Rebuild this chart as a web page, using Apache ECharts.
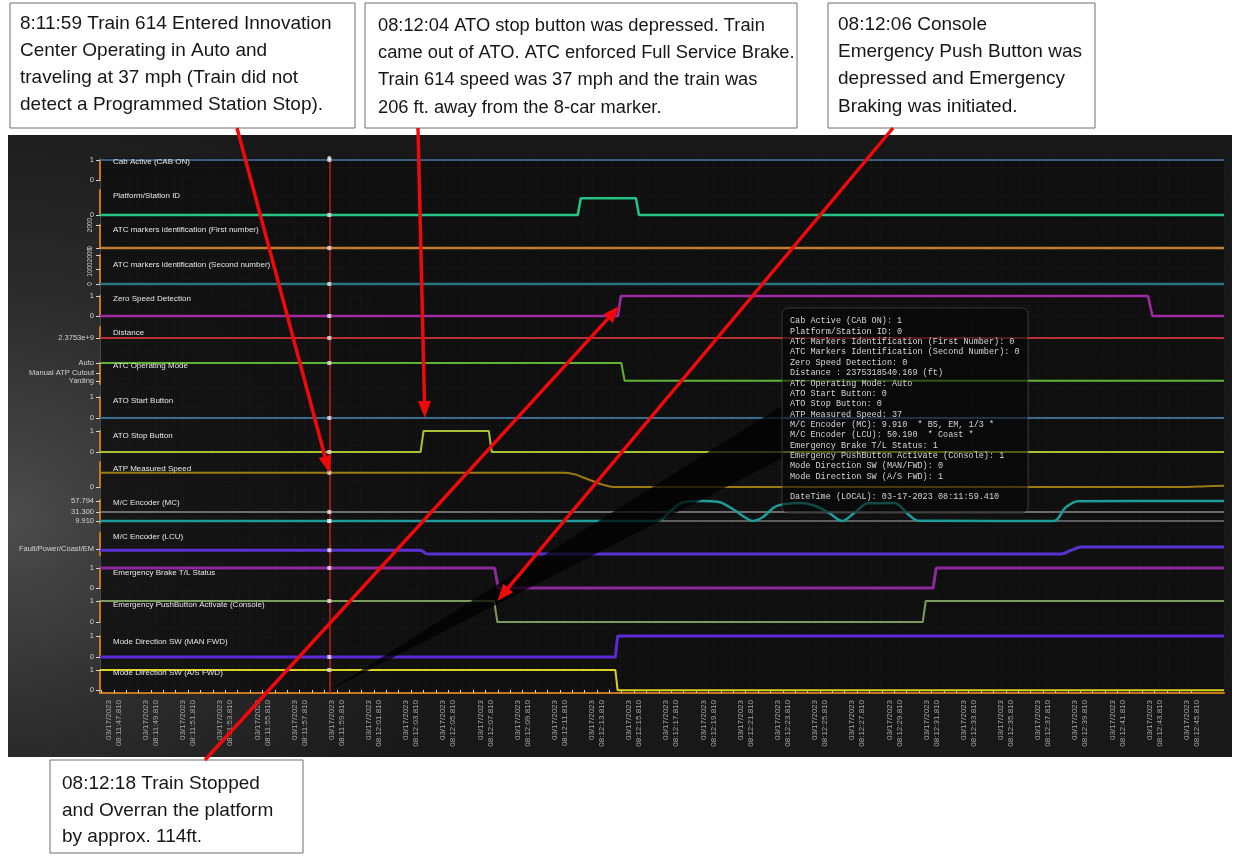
<!DOCTYPE html>
<html>
<head>
<meta charset="utf-8">
<script src="https://cdn.jsdelivr.net/npm/echarts@6/dist/echarts.min.js"></script>
<style>
  html, body { margin: 0; padding: 0; background: #ffffff; }
  #main { width: 1235px; height: 856px; }
</style>
</head>
<body>
<div id="main"></div>
<script>
// ---- Event recorder channels, Train 614 (time = seconds after 08:11:00) ----
const recordDate = '03/17/2023';
const tickLabels = [
  '08:11:47.810', '08:11:49.810', '08:11:51.810', '08:11:53.810', '08:11:55.810',
  '08:11:57.810', '08:11:59.810', '08:12:01.810', '08:12:03.810', '08:12:05.810',
  '08:12:07.810', '08:12:09.810', '08:12:11.810', '08:12:13.810', '08:12:15.810',
  '08:12:17.810', '08:12:19.810', '08:12:21.810', '08:12:23.810', '08:12:25.810',
  '08:12:27.810', '08:12:29.810', '08:12:31.810', '08:12:33.810', '08:12:35.810',
  '08:12:37.810', '08:12:39.810', '08:12:41.810', '08:12:43.810', '08:12:45.810'
];
const cursorTime = '08:11:59.410';
const timeRange = [47.07, 107.55];

const cabActive        = [[47.07, 1], [107.55, 1]];
const platformStation  = [[47.07, 0], [72.78, 0], [72.94, 1], [75.91, 1], [76.07, 0], [107.55, 0]];
const atcMarkerFirst   = [[47.07, 0], [107.55, 0]];
const atcMarkerSecond  = [[47.07, 0], [107.55, 0]];
const zeroSpeed        = [[47.07, 0], [74.94, 0], [75.10, 1], [103.46, 1], [103.70, 0], [107.55, 0]];
const distanceFt       = [[47.07, 2375318540.169], [107.55, 2375318540.169]];
const atcModeNames     = ['Yarding', 'Manual Restricted', 'Manual ATP Cutout', 'Auto'];
const atcMode          = [[47.07, 3], [75.12, 3], [75.30, 0], [107.55, 0]];
const atoStart         = [[47.07, 0], [107.55, 0]];
const atoStop          = [[47.07, 0], [64.32, 0], [64.48, 1], [67.99, 1], [68.15, 0], [107.55, 0]];
const atpSpeed         = [[47.07, 37], [72.0, 37], [72.6, 33], [73.0, 26], [73.5, 17], [74.0, 8],
                          [74.5, 1.5], [74.9, 0], [105.6, 0], [106.6, 2], [107.55, 3]];
const mcEncoder        = [[47.07, 9.91], [76.7, 9.91], [77.3, 14], [77.8, 35], [78.5, 55], [79.5, 57.5],
                          [80.3, 56], [81.2, 36], [81.8, 18], [82.2, 10], [82.7, 18], [83.5, 46],
                          [84.8, 53], [85.6, 45], [86.3, 29], [87.0, 10], [87.7, 31], [88.4, 52],
                          [89.8, 53], [90.6, 24], [91.1, 10.5], [98.4, 10], [99.0, 41], [99.7, 57.3],
                          [107.55, 57.5]];
const mcLevelHigh      = [[47.07, 31.3], [107.55, 31.3]];
const mcLevelLow       = [[47.07, 9.8], [107.55, 9.8]];
const lcuEncoder       = [[47.07, 50.19], [64.3, 50.19], [64.7, 43.7], [98.8, 43.7], [99.3, 50],
                          [99.9, 55.8], [107.55, 55.8]];
const ebStatus         = [[47.07, 1], [68.30, 1], [68.50, 0], [91.90, 0], [92.06, 1], [107.55, 1]];
const epbConsole       = [[47.07, 1], [68.28, 1], [68.45, 0], [91.34, 0], [91.50, 1], [107.55, 1]];
const modeManFwd       = [[47.07, 0], [74.80, 0], [74.92, 1], [107.55, 1]];
const modeAsFwd        = [[47.07, 1], [74.80, 1], [74.92, 0], [107.55, 0]];
const mcNotch  = 'B5, EM, 1/3';
const lcuNotch = 'Coast';

// ---- helpers ----
function toSec(s) {
  const p = s.split(':');
  return (+p[0] - 8) * 3600 + (+p[1] - 11) * 60 + parseFloat(p[2]);
}
function valueAt(data, t) {
  for (let i = 0; i < data.length - 1; i++) {
    const a = data[i], b = data[i + 1];
    if (t >= a[0] && t <= b[0]) {
      return a[1] + (b[1] - a[1]) * (t - a[0]) / (b[0] - a[0]);
    }
  }
  return data[data.length - 1][1];
}
const tickSecs = tickLabels.map(toSec);
const labelBySec = {};
tickLabels.forEach((l, i) => { labelBySec[tickSecs[i].toFixed(2)] = l; });
const minorTickSecs = [];
tickSecs.forEach((s) => { minorTickSecs.push(s - 4 / 3, s - 2 / 3, s); });
const cursorSec = toSec(cursorTime);

// mode levels on the ATC Operating Mode axis
const atcModeLevels = [1.5, 3.1, 5.2, 10];

// ---- channel definitions (style + axis) ----
const ORANGE = '#c7771e';
const channels = [
  { name: 'Cab Active (CAB ON)', band: [160, 180, 163], min: 0, max: 1, ticks: [0, 1],
    lines: [{ data: cabActive, color: '#3d5d80', width: 2 }] },
  { name: 'Platform/Station ID', band: [190, 215, 197], min: 0, max: 1.5, ticks: [0],
    lines: [{ data: platformStation, color: '#22c585', width: 2.5 }] },
  { name: 'ATC markers identification (First number)', band: [225, 248, 231], min: 0, max: 2000,
    ticks: [0, 1000, 2000], rotate: 90,
    lines: [{ data: atcMarkerFirst, color: '#c47c34', width: 2.5 }] },
  { name: 'ATC markers identification (Second number)', band: [255, 284, 266], min: 0, max: 2000,
    ticks: [0, 1000, 2000], rotate: 90,
    lines: [{ data: atcMarkerSecond, color: '#28767e', width: 2.5 }] },
  { name: 'Zero Speed Detection', band: [296, 316, 300], min: 0, max: 1, ticks: [0, 1],
    lines: [{ data: zeroSpeed, color: '#a12aa4', width: 2.5 }] },
  { name: 'Distance', band: [327, 338, 334], min: 2375318540, max: 2375318600, ticks: [2375318540],
    fmt: (v) => v.toExponential(4),
    lines: [{ data: distanceFt, color: '#b83232', width: 2 }] },
  { name: 'ATC Operating Mode', band: [363, 384, 367], min: 0, max: 10, ticks: atcModeLevels,
    fmt: (v) => atcModeNames[atcModeLevels.indexOf(v)] || '',
    lines: [{ data: atcMode.map((d) => [d[0], atcModeLevels[d[1]]]), color: '#5fb332', width: 2 }] },
  { name: 'ATO Start Button', band: [397, 418, 402], min: 0, max: 1, ticks: [0, 1],
    lines: [{ data: atoStart, color: '#3a6a8e', width: 2 }] },
  { name: 'ATO Stop Button', band: [431, 452, 437], min: 0, max: 1, ticks: [0, 1],
    lines: [{ data: atoStop, color: '#a6c232', width: 2 }] },
  { name: 'ATP Measured Speed', band: [462, 487, 470], min: 0, max: 65, ticks: [0],
    lines: [{ data: atpSpeed, color: '#9c7c12', width: 2, smooth: 0.4 }] },
  { name: 'M/C Encoder (MC)', band: [500, 523, 504], min: 5, max: 60, ticks: [57.794, 31.3, 9.91],
    fmt: (v) => v.toFixed(3),
    lines: [{ data: mcLevelHigh, color: '#8c8c8c', width: 1.5 },
            { data: mcLevelLow, color: '#7a7a7a', width: 1.5 },
            { data: mcEncoder, color: '#1c9c9a', width: 2.5, smooth: 0.35 }] },
  { name: 'M/C Encoder (LCU)', band: [533, 555, 538], min: 42, max: 80, ticks: [52.5, 47],
    fmt: (v) => (v === 52.5 ? 'Fault/Power/Coast/EM' : 'B 10 96'),
    lines: [{ data: lcuEncoder, color: '#5a32d2', width: 3, smooth: 0.3 }] },
  { name: 'Emergency Brake T/L Status', band: [568, 588, 574], min: 0, max: 1, ticks: [0, 1],
    lines: [{ data: ebStatus, color: '#8c2a9c', width: 3 }] },
  { name: 'Emergency PushButton Activate (Console)', band: [601, 622, 606], min: 0, max: 1, ticks: [0, 1],
    lines: [{ data: epbConsole, color: '#7c9c5c', width: 2 }] },
  { name: 'Mode Direction SW (MAN FWD)', band: [636, 657, 643], min: 0, max: 1, ticks: [0, 1],
    lines: [{ data: modeManFwd, color: '#5a2ad6', width: 3 }] },
  { name: 'Mode Direction SW (A/S FWD)', band: [670, 693, 674], min: -0.14, max: 1, ticks: [0, 1],
    lines: [{ data: modeAsFwd, color: '#dcd222', width: 2 }] }
];

// ---- build option ----
const grids = [{ left: 100, right: 11, top: 158, bottom: 163, show: true,
                 backgroundColor: 'rgba(14,14,14,0.82)', borderWidth: 0, outerBoundsMode: 'none' }];
const dotted = { color: 'rgba(255,255,255,0.05)', width: 1, type: [1, 2] };
const xAxes = [
  { gridIndex: 0, type: 'value', min: 0, max: 121, interval: 1,
    axisLine: { show: false }, axisTick: { show: false }, axisLabel: { show: false },
    splitLine: { show: true, lineStyle: dotted } },
  { gridIndex: 0, type: 'value', min: timeRange[0], max: timeRange[1], show: false }
];
const yAxes = [
  { gridIndex: 0, type: 'value', min: 0, max: 58, interval: 1, position: 'right',
    axisLine: { show: true, lineStyle: { color: '#4a4a4a', width: 1 } },
    axisTick: { show: false }, axisLabel: { show: false },
    splitLine: { show: true, lineStyle: dotted } }
];
const series = [{
  type: 'scatter', xAxisIndex: 1, yAxisIndex: 0, data: [[cursorSec, 58]],
  symbolSize: 4, itemStyle: { color: '#eeeeee' }, z: 6, silent: true,
  markLine: {
    silent: true, symbol: 'none', label: { show: false },
    lineStyle: { color: '#c41c1c', width: 1.5, type: 'solid' },
    data: [{ xAxis: cursorSec }]
  }
}];
const titles = [];
const labelFont = 'Liberation Sans';

channels.forEach((ch, i) => {
  const gi = i + 1;
  const last = i === channels.length - 1;
  grids.push({ left: 100, right: 11, top: ch.band[0], height: ch.band[1] - ch.band[0],
               outerBoundsMode: 'none' });
  const xa = { gridIndex: gi, type: 'value', min: timeRange[0], max: timeRange[1], show: false };
  if (last) {
    Object.assign(xa, {
      show: true,
      axisLine: { show: true, onZero: false, lineStyle: { color: ORANGE, width: 2 } },
      axisTick: { show: true, inside: true, length: 3, customValues: minorTickSecs,
                  lineStyle: { color: '#d6d6d6', width: 1 } },
      axisLabel: {
        customValues: tickSecs, rotate: 90, margin: 7, color: '#a6a6a6',
        fontSize: 8, lineHeight: 10, fontFamily: labelFont,
        formatter: (v) => recordDate + '\n' + (labelBySec[v.toFixed(2)] || '')
      },
      splitLine: { show: false }
    });
  }
  xAxes.push(xa);
  yAxes.push({
    gridIndex: gi, type: 'value', min: ch.min, max: ch.max,
    axisLine: { show: true, onZero: false, lineStyle: { color: ORANGE, width: 2 } },
    axisTick: { show: true, length: 4, customValues: ch.ticks, lineStyle: { color: '#cfcfcf', width: 1 } },
    axisLabel: {
      customValues: ch.ticks, color: '#d2d2d2', fontSize: ch.rotate ? 6.5 : 7.5,
      fontFamily: labelFont, margin: 6, rotate: ch.rotate || 0, hideOverlap: false,
      showMinLabel: true, showMaxLabel: true,
      formatter: ch.fmt || ((v) => String(v))
    },
    splitLine: { show: false }
  });
  ch.lines.forEach((ln) => {
    series.push({
      type: 'line', xAxisIndex: gi + 1, yAxisIndex: gi, data: ln.data,
      showSymbol: false, clip: false, smooth: ln.smooth || false, silent: true,
      lineStyle: { color: ln.color, width: ln.width }, z: 3
    });
    series.push({
      type: 'scatter', xAxisIndex: gi + 1, yAxisIndex: gi,
      data: [[cursorSec, valueAt(ln.data, cursorSec)]],
      symbol: 'rect', symbolSize: 4, itemStyle: { color: '#e6e6e6' }, z: 5, silent: true
    });
  });
  titles.push({
    text: ch.name, left: 113, top: ch.band[2] - 5, padding: 0,
    textStyle: { color: '#e6e6e6', fontSize: 8, fontWeight: 'normal', fontFamily: labelFont }
  });
});

const chart = echarts.init(document.getElementById('main'), null, { renderer: 'canvas' });
chart.setOption({
  animation: false,
  backgroundColor: '#ffffff',
  title: titles,
  grid: grids,
  xAxis: xAxes,
  yAxis: yAxes,
  series: series
});

// ---- overlays: recorder readout, callout boxes and arrows ----
const px = (gridIndex, pt) => chart.convertToPixel({ gridIndex: gridIndex }, pt);

const readout = [
  'Cab Active (CAB ON): ' + valueAt(cabActive, cursorSec),
  'Platform/Station ID: ' + valueAt(platformStation, cursorSec),
  'ATC Markers Identification (First Number): ' + valueAt(atcMarkerFirst, cursorSec),
  'ATC Markers Identification (Second Number): ' + valueAt(atcMarkerSecond, cursorSec),
  'Zero Speed Detection: ' + valueAt(zeroSpeed, cursorSec),
  'Distance : ' + valueAt(distanceFt, cursorSec).toFixed(3) + ' (ft)',
  'ATC Operating Mode: ' + atcModeNames[Math.round(valueAt(atcMode, cursorSec))],
  'ATO Start Button: ' + valueAt(atoStart, cursorSec),
  'ATO Stop Button: ' + valueAt(atoStop, cursorSec),
  'ATP Measured Speed: ' + Math.round(valueAt(atpSpeed, cursorSec)),
  'M/C Encoder (MC): ' + valueAt(mcEncoder, cursorSec).toFixed(3) + '  * ' + mcNotch + ' *',
  'M/C Encoder (LCU): ' + valueAt(lcuEncoder, cursorSec).toFixed(3) + '  * ' + lcuNotch + ' *',
  'Emergency Brake T/L Status: ' + valueAt(ebStatus, cursorSec),
  'Emergency PushButton Activate (Console): ' + valueAt(epbConsole, cursorSec),
  'Mode Direction SW (MAN/FWD): ' + valueAt(modeManFwd, cursorSec),
  'Mode Direction SW (A/S FWD): ' + valueAt(modeAsFwd, cursorSec),
  '',
  'DateTime (LOCAL): ' + recordDate.replace(/\//g, '-') + ' ' + cursorTime
].join('\n');

function arrow(from, to) {
  const dx = to[0] - from[0], dy = to[1] - from[1];
  const len = Math.hypot(dx, dy), ux = dx / len, uy = dy / len;
  const L = 17, W = 6.5;
  const bx = to[0] - ux * L, by = to[1] - uy * L;
  return [
    { type: 'line', z: 90, silent: true,
      shape: { x1: from[0], y1: from[1], x2: bx + ux * 2, y2: by + uy * 2 },
      style: { stroke: '#ee0a0a', lineWidth: 3.5 } },
    { type: 'polygon', z: 90, silent: true,
      shape: { points: [to, [bx - uy * W, by + ux * W], [bx + uy * W, by - ux * W]] },
      style: { fill: '#ee0a0a' } }
  ];
}

function noteBox(x, y, w, h, tx, ty, text, size, lh) {
  return [
    { type: 'rect', z: 80, silent: true, shape: { x: x, y: y, width: w, height: h },
      style: { fill: '#ffffff', stroke: '#6e6e6e', lineWidth: 1 } },
    { type: 'text', z: 81, silent: true, x: tx, y: ty,
      style: { text: text, fill: '#161616', font: size + 'px "Liberation Sans"', lineHeight: lh } }
  ];
}

const tipCursorBottom = px(16, [cursorSec, 0]);
const tipSpeed = px(10, [cursorSec, 37]);
const tipAtoStop = px(8, [64.55, 0]);
const tipEmergency = px(14, [68.45, 1]);
const tipStopped = px(5, [75.02, 0.5]);

const graphics = [
  // recorder screen backdrop
  { type: 'rect', z: -100, silent: true, shape: { x: 8, y: 135, width: 1224, height: 622 },
    style: { fill: { type: 'radial', x: 0.0, y: 0.62, r: 0.75,
      colorStops: [{ offset: 0, color: '#4c4c4c' }, { offset: 0.5, color: '#2a2a2a' },
                   { offset: 1, color: '#181818' }] } } },
  // readout pointer
  { type: 'polygon', z: 50, silent: true,
    shape: { points: [[783, 405], [783, 458], tipCursorBottom] },
    style: { fill: 'rgba(0,0,0,0.72)' } },
  // readout panel
  { type: 'rect', z: 60, silent: true, shape: { x: 782, y: 308, width: 246, height: 205, r: 6 },
    style: { fill: 'rgba(6,6,6,0.55)', stroke: 'rgba(110,110,110,0.45)', lineWidth: 1 } },
  { type: 'text', z: 61, silent: true, x: 790, y: 316,
    style: { text: readout, fill: '#d4d4d4', font: '8.5px "Liberation Mono"', lineHeight: 10.35 } }
]
  .concat(noteBox(10, 3, 345, 125, 20, 10,
    '8:11:59 Train 614 Entered Innovation\nCenter Operating in Auto and\ntraveling at 37 mph (Train did not\ndetect a Programmed Station Stop).', 19, 27))
  .concat(noteBox(365, 3, 432, 125, 378, 12,
    '08:12:04 ATO stop button was depressed. Train\ncame out of ATO. ATC enforced Full Service Brake.\nTrain 614 speed was 37 mph and the train was\n206 ft. away from the 8-car marker.', 18.3, 27.3))
  .concat(noteBox(828, 3, 267, 125, 838, 11,
    '08:12:06 Console\nEmergency Push Button was\ndepressed and Emergency\nBraking was initiated.', 19, 27.3))
  .concat(noteBox(50, 760, 253, 93, 62, 771,
    '08:12:18 Train Stopped\nand Overran the platform\nby approx. 114ft.', 19, 26.5))
  .concat(arrow([237, 128], tipSpeed))
  .concat(arrow([418, 128], tipAtoStop))
  .concat(arrow([893, 128], tipEmergency))
  .concat(arrow([205, 760], tipStopped));

chart.setOption({ graphic: graphics });
</script>
</body>
</html>
